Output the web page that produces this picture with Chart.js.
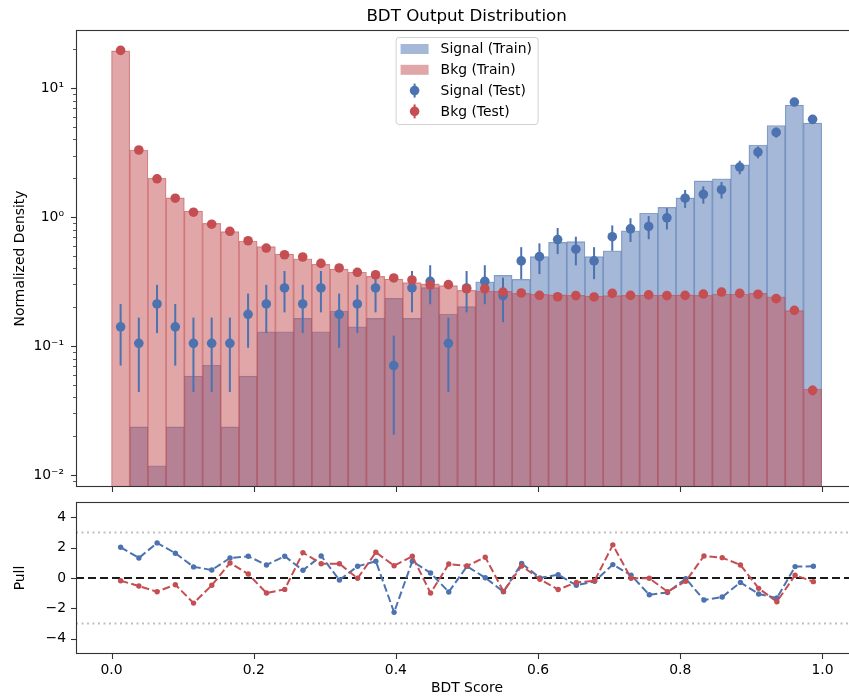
<!DOCTYPE html>
<html>
<head>
<meta charset="utf-8">
<title>BDT Output Distribution</title>
<script src="https://cdn.jsdelivr.net/npm/chart.js@4.4.1/dist/chart.umd.min.js"></script>
<style>
html, body { margin: 0; padding: 0; background: #fff; overflow: hidden; }
#wrap { position: relative; width: 862px; height: 696px; }
#top { position: absolute; left: 0; top: 0; }
#pull { position: absolute; left: 0; top: 495px; }
</style>
</head>
<body>
<div id="wrap">
  <canvas id="top" width="862" height="495"></canvas>
  <canvas id="pull" width="862" height="201"></canvas>
</div>
<script>
// 39 bins from 0 to 1
const nBins = 39;
const binCenters = Array.from({length: nBins}, (_, i) => (i + 0.5) / nBins);

// histograms (train)
const sigTrain = [0, 0.0236, 0.0118, 0.0236, 0.0585, 0.0709, 0.0236, 0.0585, 0.129, 0.129,
  0.164, 0.129, 0.187, 0.141, 0.164, 0.234, 0.164, 0.284, 0.177, 0.202,
  0.315, 0.353, 0.329, 0.493, 0.636, 0.644, 0.493, 0.548, 0.783, 1.07,
  1.19, 1.41, 1.91, 1.98, 2.54, 3.62, 5.13, 7.38, 5.35];
const bkgTrain = [19.4, 3.31, 2.0, 1.41, 1.11, 0.894, 0.77, 0.652, 0.589, 0.516,
  0.475, 0.430, 0.395, 0.373, 0.347, 0.330, 0.310, 0.303, 0.294, 0.270,
  0.267, 0.265, 0.256, 0.252, 0.249, 0.247, 0.244, 0.246, 0.247, 0.248,
  0.248, 0.249, 0.247, 0.253, 0.252, 0.256, 0.241, 0.188, 0.0464];

// test points with errors
const sigTest = [0.141, 0.105, 0.212, 0.141, 0.105, 0.105, 0.105, 0.176, 0.212, 0.282,
  0.212, 0.282, 0.176, 0.212, 0.282, 0.0705, 0.282, 0.317, 0.105, 0.282,
  0.317, 0.246, 0.457, 0.493, 0.669, 0.563, 0.457, 0.704, 0.81, 0.845,
  0.986, 1.40, 1.50, 1.63, 2.44, 3.19, 4.53, 7.79, 5.72];
const sigTestErr = [0.0705, 0.061, 0.086, 0.0705, 0.061, 0.061, 0.061, 0.079, 0.086, 0.0996,
  0.086, 0.0996, 0.079, 0.086, 0.0996, 0.050, 0.0996, 0.106, 0.061, 0.0996,
  0.106, 0.093, 0.127, 0.132, 0.153, 0.141, 0.127, 0.157, 0.169, 0.172,
  0.186, 0.222, 0.23, 0.24, 0.293, 0.335, 0.40, 0.52, 0.45];
const bkgTest = [19.6, 3.31, 1.98, 1.40, 1.09, 0.88, 0.775, 0.655, 0.575, 0.510,
  0.490, 0.437, 0.403, 0.373, 0.357, 0.337, 0.325, 0.297, 0.299, 0.278,
  0.278, 0.262, 0.258, 0.247, 0.241, 0.246, 0.240, 0.256, 0.247, 0.249,
  0.246, 0.247, 0.253, 0.262, 0.256, 0.252, 0.233, 0.189, 0.0453];
const bkgTestErr = [0.45, 0.09, 0.06, 0.045, 0.036, 0.03, 0.027, 0.024, 0.022, 0.02,
  0.02, 0.018, 0.017, 0.016, 0.016, 0.015, 0.015, 0.014, 0.014, 0.014,
  0.014, 0.013, 0.013, 0.013, 0.013, 0.013, 0.013, 0.013, 0.013, 0.013,
  0.013, 0.013, 0.013, 0.013, 0.013, 0.013, 0.012, 0.011, 0.004];

// pulls
const sigPull = [2.02, 1.32, 2.31, 1.63, 0.73, 0.53, 1.32, 1.43, 0.86, 1.43,
  0.51, 1.45, -0.13, 0.77, 1.10, -2.26, 1.10, 0.33, -0.92, 0.77,
  0.02, -0.90, 0.96, 0.0, 0.22, -0.48, -0.22, 0.88, 0.18, -1.10,
  -0.95, -0.04, -1.45, -1.25, -0.29, -1.05, -1.32, 0.75, 0.77];
const bkgPull = [-0.18, -0.53, -0.90, -0.44, -1.65, -0.48, 0.99, 0.26, -0.99, -0.75,
  1.67, 0.94, 0.94, -0.02, 1.69, 0.81, 1.43, -0.99, 0.92, 0.79,
  1.37, -0.88, 0.79, -0.08, -0.76, -0.29, -0.18, 2.18, -0.02, -0.02,
  -0.90, -0.22, 1.45, 1.34, 0.86, -0.68, -1.56, 0.18, -0.24];

// ticks
const xTicks = [0, 0.2, 0.4, 0.6, 0.8, 1.0];
const yMajor = [0.01, 0.1, 1, 10];
const yLabels = {0.01: '10\u207B\u00B2', 0.1: '10\u207B\u00B9', 1: '10\u2070', 10: '10\u00B9'};
const pullTicks = [-4, -2, 0, 2, 4];
const pullRefs = [-3, 3];

const Y_MIN = 0.00807, Y_MAX = 28.2;
const yMinor = [];
for (let e = -3; e <= 1; e++) {
  for (let m = 2; m <= 9; m++) {
    const v = m * Math.pow(10, e);
    if (v > Y_MIN && v < Y_MAX) yMinor.push(v);
  }
}

const BLUE = '#4C72B0';
const RED = '#C44E52';
const FONT = 'DejaVu Sans';

Chart.defaults.font.family = FONT;
Chart.defaults.font.size = 13.9;
Chart.defaults.color = '#000';

const pts = ys => binCenters.map((x, i) => ({x: x, y: ys[i]}));

// no extra label padding around the plot area
const noPad = s => { s.paddingTop = 0; s.paddingBottom = 0; s.paddingLeft = 0; s.paddingRight = 0; };

// error bars, drawn just before their points
const errorBars = {
  id: 'errorBars',
  beforeDatasetDraw(chart, args) {
    const ds = chart.data.datasets[args.index];
    if (!ds.err) return;
    const {ctx, scales: {x, y}} = chart;
    ctx.save();
    ctx.strokeStyle = ds.borderColor;
    ctx.lineWidth = 2;
    ds.data.forEach((p, i) => {
      const lo = Math.max(p.y - ds.err[i], y.min);
      const hi = p.y + ds.err[i];
      const px = x.getPixelForValue(p.x);
      ctx.beginPath();
      ctx.moveTo(px, y.getPixelForValue(lo));
      ctx.lineTo(px, y.getPixelForValue(hi));
      ctx.stroke();
    });
    ctx.restore();
  }
};

// axes box + tick marks
const frame = {
  id: 'frame',
  afterDatasetsDraw(chart, args, opts) {
    const {ctx, chartArea: a, scales: {x, y}} = chart;
    ctx.save();
    ctx.strokeStyle = '#333';
    ctx.lineWidth = 1.1;
    ctx.strokeRect(a.left + 0.5, a.top + 0.5, a.right - a.left - 1, a.bottom - a.top - 1);
    const seg = (x1, y1, x2, y2) => { ctx.beginPath(); ctx.moveTo(x1, y1); ctx.lineTo(x2, y2); ctx.stroke(); };
    xTicks.forEach(v => {
      const px = Math.round(x.getPixelForValue(v)) + 0.5;
      seg(px, a.bottom, px, a.bottom + 5);
    });
    (opts.yMajor || []).forEach(v => {
      const py = Math.round(y.getPixelForValue(v)) + 0.5;
      seg(a.left, py, a.left - 5, py);
    });
    ctx.lineWidth = 0.8;
    (opts.yMinor || []).forEach(v => {
      const py = Math.round(y.getPixelForValue(v)) + 0.5;
      seg(a.left, py, a.left - 3, py);
    });
    ctx.restore();
  }
};

// title over the axes
const axTitle = {
  id: 'axTitle',
  afterDraw(chart) {
    const {ctx, chartArea: a} = chart;
    ctx.save();
    ctx.font = '16.7px "' + FONT + '"';
    ctx.fillStyle = '#000';
    ctx.textAlign = 'center';
    ctx.textBaseline = 'middle';
    ctx.fillText('BDT Output Distribution', (a.left + a.right) / 2, 17);
    ctx.restore();
  }
};

// matplotlib-like legend box (upper center)
const legendBox = {
  id: 'legendBox',
  afterDraw(chart) {
    const {ctx, chartArea: a} = chart;
    const w = 142, h = 87;
    const lx = (a.left + a.right) / 2 - w / 2, ly = a.top + 7;
    ctx.save();
    ctx.beginPath();
    ctx.roundRect(lx + 0.5, ly + 0.5, w, h, 3);
    ctx.fillStyle = 'rgba(255,255,255,0.8)';
    ctx.fill();
    ctx.strokeStyle = '#d0d0d0';
    ctx.lineWidth = 1;
    ctx.stroke();
    const ds = chart.data.datasets;
    const rows = [ds[3], ds[2], ds[1], ds[0]];
    ctx.font = '13.9px "' + FONT + '"';
    ctx.textBaseline = 'middle';
    rows.forEach((d, i) => {
      const cy = ly + 12 + i * 20.8;
      if (d.err) {
        ctx.strokeStyle = d.borderColor;
        ctx.lineWidth = 2;
        ctx.beginPath();
        ctx.moveTo(lx + 19, cy - 7);
        ctx.lineTo(lx + 19, cy + 7);
        ctx.stroke();
        ctx.fillStyle = d.backgroundColor;
        ctx.beginPath();
        ctx.arc(lx + 19, cy, 4.8, 0, Math.PI * 2);
        ctx.fill();
      } else {
        ctx.fillStyle = d.backgroundColor;
        ctx.fillRect(lx + 5, cy - 5, 28, 10);
      }
      ctx.fillStyle = '#000';
      ctx.fillText(d.label, lx + 45, cy + 0.5);
    });
    ctx.restore();
  }
};

new Chart(document.getElementById('top'), {
  type: 'bar',
  data: {
    datasets: [
      { type: 'scatter', label: 'Bkg (Test)', data: pts(bkgTest), err: bkgTestErr,
        backgroundColor: RED, borderColor: RED, pointRadius: 4.8, pointBorderWidth: 0, order: 0 },
      { type: 'scatter', label: 'Signal (Test)', data: pts(sigTest), err: sigTestErr,
        backgroundColor: BLUE, borderColor: BLUE, pointRadius: 4.8, pointBorderWidth: 0, order: 1 },
      { label: 'Bkg (Train)', data: pts(bkgTrain), grouped: false,
        backgroundColor: 'rgba(196,78,82,0.5)', borderColor: 'rgba(196,78,82,0.57)',
        borderWidth: 0.5, barPercentage: 1, categoryPercentage: 1, order: 2 },
      { label: 'Signal (Train)', data: pts(sigTrain), grouped: false,
        backgroundColor: 'rgba(76,114,176,0.5)', borderColor: 'rgba(76,114,176,0.57)',
        borderWidth: 0.5, barPercentage: 1, categoryPercentage: 1, order: 3 }
    ]
  },
  options: {
    responsive: false,
    animation: false,
    events: [],
    layout: { padding: { top: 30, right: 2, left: 0, bottom: 0 } },
    plugins: {
      legend: { display: false },
      tooltip: { enabled: false },
      frame: { yMajor: yMajor, yMinor: yMinor }
    },
    scales: {
      x: {
        type: 'linear', min: -0.05, max: 1.05, offset: false,
        grid: { display: false, tickLength: 0 }, border: { display: false },
        ticks: { display: false },
        afterBuildTicks: s => { s.ticks = xTicks.map(v => ({value: v})); },
        afterFit: s => { s.height = 8; noPad(s); }
      },
      y: {
        type: 'logarithmic', min: Y_MIN, max: Y_MAX,
        grid: { display: false, tickLength: 0 }, border: { display: false },
        ticks: { padding: 12, autoSkip: false, callback: v => yLabels[v] || '' },
        afterBuildTicks: s => { s.ticks = yMajor.map(v => ({value: v})); },
        afterFit: s => { s.width = 76; noPad(s); },
        title: { display: true, text: 'Normalized Density', padding: { top: 12, bottom: 0 } }
      }
    }
  },
  plugins: [errorBars, frame, axTitle, legendBox]
});

const refLine = (v, color, width, dash) => ({
  data: [{x: -0.05, y: v}, {x: 1.05, y: v}],
  borderColor: color, borderWidth: width, borderDash: dash, pointRadius: 0, order: 5
});

new Chart(document.getElementById('pull'), {
  type: 'line',
  data: {
    datasets: [
      { label: 'Bkg', data: pts(bkgPull), borderColor: RED, backgroundColor: RED,
        borderWidth: 2, borderDash: [7.7, 3.3], pointRadius: 2.7, pointBorderWidth: 0, order: 0 },
      { label: 'Signal', data: pts(sigPull), borderColor: BLUE, backgroundColor: BLUE,
        borderWidth: 2, borderDash: [7.7, 3.3], pointRadius: 2.7, pointBorderWidth: 0, order: 1 },
      refLine(0, '#1a1a1a', 2, [8, 4]),
      refLine(pullRefs[0], 'rgba(128,128,128,0.5)', 2, [2, 3.5]),
      refLine(pullRefs[1], 'rgba(128,128,128,0.5)', 2, [2, 3.5])
    ]
  },
  options: {
    responsive: false,
    animation: false,
    events: [],
    layout: { padding: { top: 7, right: 2, left: 0, bottom: 0 } },
    plugins: {
      legend: { display: false },
      tooltip: { enabled: false },
      frame: { yMajor: pullTicks }
    },
    scales: {
      x: {
        type: 'linear', min: -0.05, max: 1.05,
        grid: { display: false, tickLength: 0 }, border: { display: false },
        ticks: { padding: 8, callback: v => v.toFixed(1) },
        afterBuildTicks: s => { s.ticks = xTicks.map(v => ({value: v})); },
        afterFit: s => { s.height = 42; noPad(s); },
        title: { display: true, text: 'BDT Score', padding: { top: 0, bottom: -1 } }
      },
      y: {
        type: 'linear', min: -5, max: 5,
        grid: { display: false, tickLength: 0 }, border: { display: false },
        ticks: { padding: 10, callback: v => (v < 0 ? '\u2212' + Math.abs(v) : String(v)) },
        afterBuildTicks: s => { s.ticks = pullTicks.map(v => ({value: v})); },
        afterFit: s => { s.width = 76; noPad(s); },
        title: { display: true, text: 'Pull', padding: { top: 12, bottom: 0 } }
      }
    }
  },
  plugins: [frame]
});
</script>
</body>
</html>
